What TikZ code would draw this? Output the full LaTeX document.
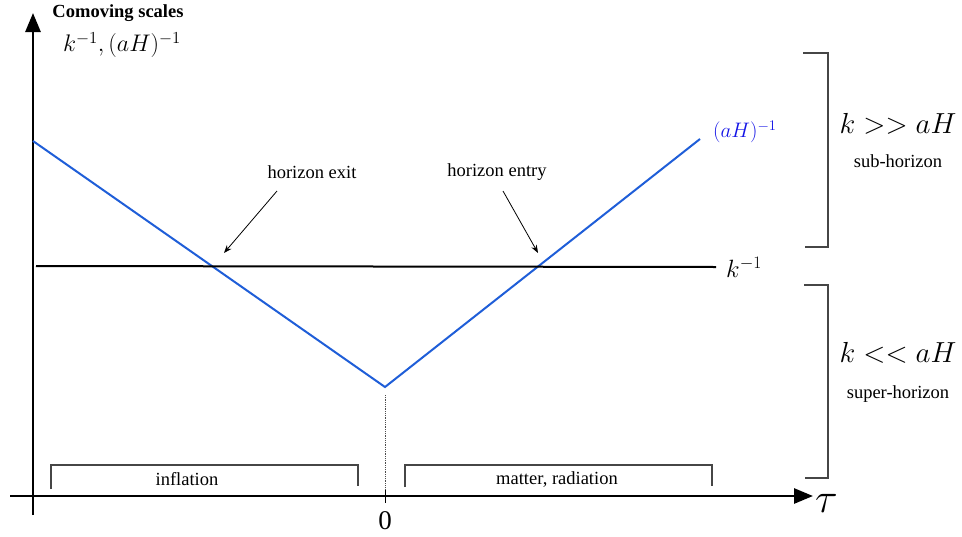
\documentclass[tikz,border=0pt]{standalone}
\usepackage{fix-cm}
\usepackage{fontspec}
\setmainfont{Liberation Serif}
\usetikzlibrary{arrows.meta}
\definecolor{hblue}{RGB}{31,94,216}
\definecolor{mblue}{RGB}{20,20,230}
\definecolor{brk}{RGB}{70,70,70}
\begin{document}
\begin{tikzpicture}[x=1pt,y=-1pt,
  axis/.style={line width=2.8pt,-{Triangle[length=19pt,width=15pt]}},
  txt/.style={inner sep=0pt,font=\fontsize{18.5}{22}\selectfont},
  brack/.style={draw=brk,line width=1.2pt},
  pointer/.style={line width=0.8pt,-{Stealth[length=8pt,width=6pt]}}]
\useasboundingbox (0,0) rectangle (962,536);
% axes
\coordinate (yb) at (33,515);
\coordinate (yt) at (33,13);
\coordinate (xl) at (10,496);
\coordinate (xr) at (813,496);
\draw[axis] (yb) -- (yt);
\draw[axis] (xl) -- (xr);
\node[anchor=west,inner sep=0pt,font=\fontsize{42}{46}\selectfont] (tau) at (815,503) {$\tau$};
\node[txt,font=\bfseries\fontsize{18.5}{22}\selectfont] (cs) at (118,13) {Comoving scales};
\node[inner sep=0pt,font=\fontsize{24}{28}\selectfont] (ylab) at (122,45) {$k^{-1},(aH)^{-1}$};
% curves
\coordinate (b1) at (33,141);
\coordinate (b0) at (385,387);
\coordinate (b2) at (700,139);
\draw[hblue,line width=2pt] (b1) -- (b0) -- (b2);
\coordinate (k1) at (36,266);
\coordinate (k2) at (716,267);
\draw[line width=2pt] (k1) -- (k2);
\node[anchor=west,inner sep=0pt,font=\fontsize{25}{28}\selectfont] (klab) at (726,267) {$k^{-1}$};
\node[anchor=west,inner sep=0pt,text=mblue,font=\fontsize{21}{24}\selectfont] (aHlab) at (713,132) {$(aH)^{-1}$};
% horizon exit/entry
\node[txt] (exit) at (312,172) {horizon exit};
\node[txt] (entry) at (497,172) {horizon entry};
\coordinate (exitp) at (224,253);
\coordinate (entryp) at (538,253);
\draw[pointer] (277,191) -- (exitp);
\draw[pointer] (503,191) -- (entryp);
% zero
\coordinate (d1) at (385,395);
\coordinate (d2) at (385,490);
\draw[densely dotted,line width=0.8pt,black!70] (d1) -- (d2);
\draw[line width=0.8pt] (385,490) -- (385,503);
\node[inner sep=0pt,font=\fontsize{27}{30}\selectfont] (zero) at (385,521) {0};
% period brackets
\draw[brack] (51,489) -- (51,465) -- (358,465) -- (358,486);
\node[txt] (infl) at (187,479) {inflation};
\draw[brack] (405,487) -- (405,465) -- (712,465) -- (712,486);
\node[txt] (mr) at (557,479) {matter, radiation};
% right brackets
\draw[brack] (803,53) -- (828,53) -- (828,247) -- (805,247);
\draw[brack] (804,285) -- (828,285) -- (828,478) -- (805,478);
\node[inner sep=0pt,font=\fontsize{29}{32}\selectfont] (sub) at (898,124) {$k>>aH$};
\node[txt] (subt) at (898,161) {sub-horizon};
\node[inner sep=0pt,font=\fontsize{29}{32}\selectfont] (sup) at (898,353) {$k<<aH$};
\node[txt] (supt) at (898,394) {super-horizon};
\end{tikzpicture}
\end{document}
